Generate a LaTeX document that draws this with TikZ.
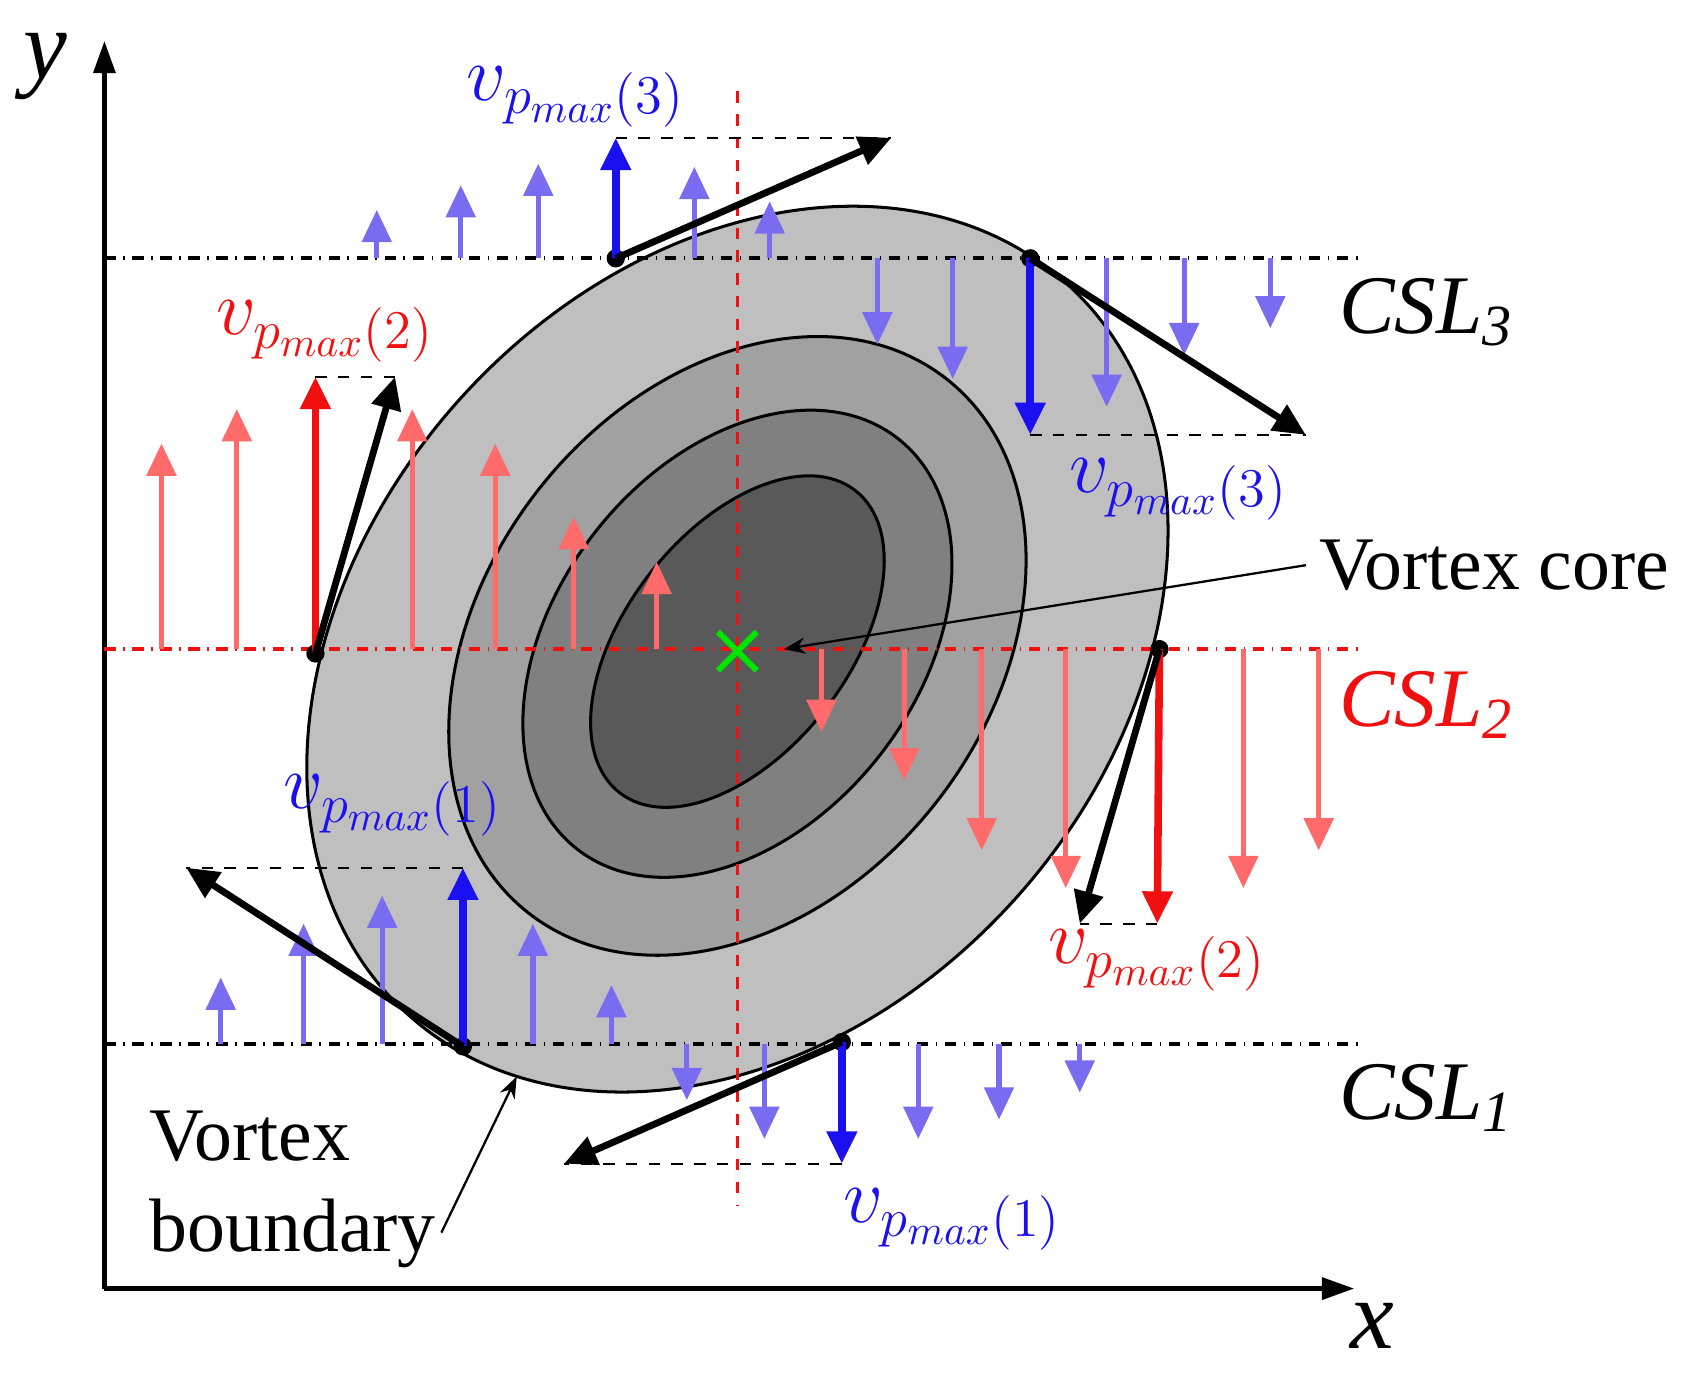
\documentclass[tikz,border=0pt]{standalone}
\usepackage{fontspec}
\setmainfont{Liberation Serif}
\usetikzlibrary{arrows.meta}
\definecolor{lred}{HTML}{FF6A6A}
\definecolor{lblue}{HTML}{7A6CF0}
\definecolor{dblue}{HTML}{1A10F0}
\definecolor{dred}{HTML}{F01010}
\begin{document}
\begin{tikzpicture}[x=0.01cm,y=-0.01cm,
  ar/.style={line width=1.4pt,-{Triangle[length=0.3cm,width=0.27cm]}},
  lr/.style={ar,draw=lred,fill=lred},
  lb/.style={ar,draw=lblue,fill=lblue},
  sr/.style={ar,line width=2pt,draw=dred},
  sb/.style={ar,line width=2pt,draw=dblue},
  bk/.style={ar,line width=1.8pt,black},
  dl/.style={dashed,line width=0.5pt},
  csl/.style={dash dot,line width=1pt},
  dot/.style={circle,fill=black,inner sep=0pt,minimum size=0.17cm},
  vl/.style={font=\fontsize{21}{22}\selectfont},
  cl/.style={font=\fontsize{22}{24}\selectfont\itshape}]
\useasboundingbox (0,0) rectangle (1568,1277);
% ellipses
\draw[fill=black!25,line width=0.8pt,rotate around={48:(685,603)}] (685,603) ellipse [x radius=457,y radius=347];
\draw[fill=black!37,line width=0.8pt,rotate around={52:(685,600)}] (685,600) ellipse [x radius=315,y radius=235];
\draw[fill=black!50,line width=0.8pt,rotate around={52:(685,598)}] (685,598) ellipse [x radius=242,y radius=168];
\draw[fill=black!65,line width=0.8pt,rotate around={52:(685,596)}] (685,596) ellipse [x radius=178,y radius=103];
% axes
\coordinate (O) at (97,1197);
\coordinate (Y) at (97,38);
\coordinate (X) at (1258,1197);
\draw[line width=1.3pt,-{Triangle[length=0.3cm,width=0.2cm]}] (O)--(Y);
\draw[line width=1.3pt,-{Triangle[length=0.3cm,width=0.2cm]}] (O)--(X);
\node[cl,inner sep=0pt,font=\fontsize{26}{28}\selectfont\itshape] (ylab) at (42,62) {y};
\node[cl,inner sep=0pt,font=\fontsize{26}{28}\selectfont\itshape] (xlab) at (1275,1232) {x};
% CSL lines
\coordinate (c3a) at (97,240); \coordinate (c3b) at (1265,240);
\coordinate (c2a) at (97,603); \coordinate (c2b) at (1265,603);
\coordinate (c1a) at (97,970); \coordinate (c1b) at (1265,970);
\draw[csl] (c3a)--(c3b);
\draw[csl,dred] (c2a)--(c2b);
\draw[csl] (c1a)--(c1b);
\coordinate (va) at (685,85); \coordinate (vb) at (685,1120);
\draw[dashed,dred,line width=0.9pt] (va)--(vb);
% CSL2 red arrows
\foreach \x/\y in {150/412,220/380,383/380,460/412,533/480,610/522}
  \draw[lr] (\x,603)--(\x,\y);
\foreach \x/\y in {763/680,840/725,912/790,990/825,1155/825,1225/790}
  \draw[lr] (\x,603)--(\x,\y);
% CSL3 blue
\foreach \x/\y in {350/195,428/172,500/152,645/155,715/187}
  \draw[lb] (\x,240)--(\x,\y);
\foreach \x/\y in {815/320,885/352,1028/378,1100/330,1180/305}
  \draw[lb] (\x,240)--(\x,\y);
% CSL1 blue
\foreach \x/\y in {205/908,282/858,355/832,495/858,568/915}
  \draw[lb] (\x,970)--(\x,\y);
\foreach \x/\y in {638/1022,710/1058,853/1058,928/1040,1003/1015}
  \draw[lb] (\x,970)--(\x,\y);
% key points
\node[dot] (p3a) at (572,240) {};
\node[dot] (p3b) at (957,240) {};
\node[dot] (p2a) at (293,607) {};
\node[dot] (p2b) at (1077,603) {};
\node[dot] (p1a) at (430,972) {};
\node[dot] (p1b) at (782,968) {};
% CSL3 left
\coordinate (t3a) at (572,128); \coordinate (k3a) at (828,128);
\draw[dl] (t3a)--(k3a);
\draw[sb] (p3a.center)--(t3a);
\draw[bk] (p3a.center)--(k3a);
% CSL3 right
\coordinate (t3b) at (957,404); \coordinate (k3b) at (1213,404);
\draw[dl] (t3b)--(k3b);
\draw[sb] (p3b.center)--(t3b);
\draw[bk] (p3b.center)--(k3b);
% CSL2 left
\coordinate (t2a) at (293,350); \coordinate (k2a) at (367,350);
\draw[dl] (t2a)--(k2a);
\draw[sr] (p2a.center)--(t2a);
\draw[bk] (p2a.center)--(k2a);
% CSL2 right
\coordinate (t2b) at (1075,858); \coordinate (k2b) at (1003,858);
\draw[dl] (t2b)--(k2b);
\draw[sr] (p2b.center)--(t2b);
\draw[bk] (p2b.center)--(k2b);
% CSL1 left
\coordinate (t1a) at (430,806); \coordinate (k1a) at (173,806);
\draw[dl] (t1a)--(k1a);
\draw[sb] (p1a.center)--(t1a);
\draw[bk] (p1a.center)--(k1a);
% CSL1 right
\coordinate (t1b) at (782,1081); \coordinate (k1b) at (524,1081);
\draw[dl] (t1b)--(k1b);
\draw[sb] (p1b.center)--(t1b);
\draw[bk] (p1b.center)--(k1b);
% labels
\node[vl,dblue] (l3a) at (535,90) {$v_{p_{max}(3)}$};
\node[vl,dblue] (l3b) at (1095,455) {$v_{p_{max}(3)}$};
\node[vl,dred] (l2a) at (302,308) {$v_{p_{max}(2)}$};
\node[vl,dred] (l2b) at (1075,892) {$v_{p_{max}(2)}$};
\node[vl,dblue] (l1a) at (365,748) {$v_{p_{max}(1)}$};
\node[vl,dblue] (l1b) at (885,1133) {$v_{p_{max}(1)}$};
\node[cl] (csl3) at (1325,290) {CSL\textsubscript{3}};
\node[cl,dred] (csl2) at (1325,655) {CSL\textsubscript{2}};
\node[cl] (csl1) at (1325,1020) {CSL\textsubscript{1}};
% core
\node[font=\fontsize{20}{22}\selectfont] (core) at (1388,525) {Vortex core};
\coordinate (cc) at (685,605);
\draw[green!90!black,line width=1.6pt] (667,587)--(703,623) (667,623)--(703,587);
\draw[line width=0.6pt,-{Stealth[length=0.2cm]}] (core.west)--(728,603);
% boundary
\node[font=\fontsize{20}{24}\selectfont,align=left] (bd) at (272,1105) {Vortex\\boundary};
\draw[line width=0.6pt,-{Stealth[length=0.2cm]}] (410,1145)--(480,1000);
\end{tikzpicture}
\end{document}
